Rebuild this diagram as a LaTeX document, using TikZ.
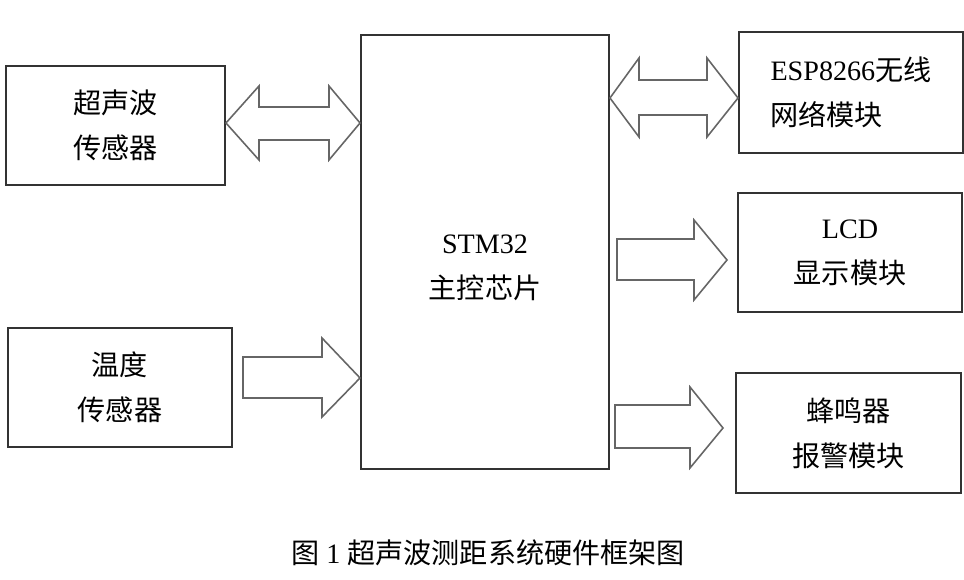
\documentclass[tikz,border=0pt]{standalone}
\usepackage{fontspec}
\setmainfont{Liberation Serif}
\newfontfamily\cjk{Noto Sans CJK SC}
\usetikzlibrary{positioning}

\tikzset{
  modbox/.style={draw=black!80, line width=1.1pt, align=center, inner sep=0pt,
    font=\fontsize{16}{25.5}\selectfont},
  blockarrow/.style={draw=black!60, line width=0.9pt, line join=miter, fill=white},
}

\begin{document}
\begin{tikzpicture}[x=0.02cm, y=-0.02cm, font=\fontsize{16}{25.5}\selectfont]

\useasboundingbox (0,0) rectangle (964,580);

% ========================
% LEFT MODULES
% ========================

\node[modbox, minimum width=219*0.02cm, minimum height=119*0.02cm] (us) at (115.5,125.5)
  {{\cjk 超声波}\\{\cjk 传感器}};
\node[modbox, minimum width=224*0.02cm, minimum height=119*0.02cm] (temp) at (120,387.5)
  {{\cjk 温度}\\{\cjk 传感器}};

% ========================
% MAIN CHIP
% ========================

\node[modbox, minimum width=248*0.02cm, minimum height=434*0.02cm] (chip) at (485,252) {};
\node[align=center, inner sep=0pt] (chiptxt) at (485,268) {STM32\\{\cjk 主控芯片}};

% ========================
% RIGHT MODULES
% ========================

\node[modbox, minimum width=224*0.02cm, minimum height=121*0.02cm, align=left] (esp) at (851,92.5)
  {ESP8266{\cjk 无线}\\{\cjk 网络模块}};
\node[modbox, minimum width=224*0.02cm, minimum height=119*0.02cm] (lcd) at (850,252.5)
  {LCD\\{\cjk 显示模块}};
\node[modbox, minimum width=225*0.02cm, minimum height=120*0.02cm] (buzz) at (848.5,433)
  {{\cjk 蜂鸣器}\\{\cjk 报警模块}};

% ========================
% BLOCK ARROWS
% ========================

% sensor <-> chip
\draw[blockarrow] (us.east |- 0,123) -- (259,86) -- (259,107) -- (329,107) -- (329,86)
  -- (chip.west |- 0,123) -- (329,160) -- (329,140) -- (259,140) -- (259,160) -- cycle;

% temperature -> chip
\draw[blockarrow] (243,357) -- (322,357) -- (322,338) -- (chip.west |- 0,378)
  -- (322,417) -- (322,398) -- (243,398) -- cycle;

% chip <-> wifi
\draw[blockarrow] (chip.east |- 0,98) -- (639,58) -- (639,80) -- (707,80) -- (707,58)
  -- (esp.west |- 0,98) -- (707,137) -- (707,115) -- (639,115) -- (639,137) -- cycle;

% chip -> lcd
\draw[blockarrow] (617,239) -- (694,239) -- (694,220) -- (727,260)
  -- (694,300) -- (694,280) -- (617,280) -- cycle;

% chip -> buzzer
\draw[blockarrow] (615,405) -- (690,405) -- (690,387) -- (723,428)
  -- (690,468) -- (690,448) -- (615,448) -- cycle;

% caption
\node (caption) at (488,553) {{\cjk 图} 1 {\cjk 超声波测距系统硬件框架图}};

\end{tikzpicture}
\end{document}
